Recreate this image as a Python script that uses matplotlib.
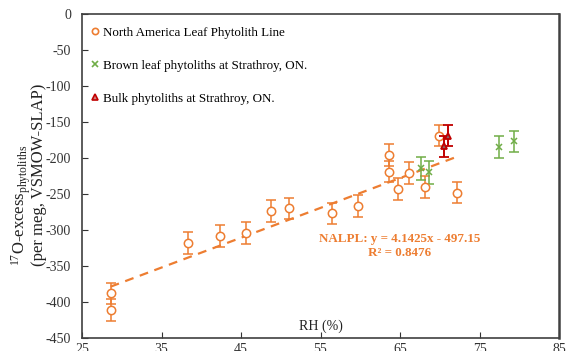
import matplotlib
matplotlib.use("Agg")
import matplotlib.pyplot as plt
from matplotlib.lines import Line2D
import numpy as np

plt.rcParams['font.family'] = ['Liberation Serif', 'DejaVu Serif']
plt.rcParams['axes.unicode_minus'] = False
plt.rcParams['mathtext.fontset'] = 'custom'
plt.rcParams['mathtext.rm'] = 'Liberation Serif'
plt.rcParams['mathtext.it'] = 'Liberation Serif'

# North America Leaf Phytolith Line
na_rh = [28.6, 28.6, 38.3, 42.3, 45.6, 48.8, 51.0, 56.5, 59.7, 63.6, 63.6, 64.8, 66.1, 68.2, 69.9, 72.2]
na_o17 = [-388, -411, -318, -308, -304, -274, -270, -277, -267, -196, -219, -243, -221, -240, -169, -248]
na_err = [15, 15, 15, 15, 15, 15, 15, 15, 15, 15, 15, 15, 15, 15, 15, 15]

# Brown leaf phytoliths at Strathroy, ON.
bl_rh = [67.7, 68.7, 77.5, 79.4]
bl_o17 = [-214, -220, -185, -177]
bl_err = [16, 16, 15, 15]

# Bulk phytoliths at Strathroy, ON.
bk_rh = [70.5, 71.1]
bk_o17 = [-184, -169]
bk_err = [15, 15]

slope, intercept = 4.1425, -497.15
r2 = 0.8476

xticks = [25, 35, 45, 55, 65, 75, 85]
yticks = list(range(-450, 1, 50))

orange = '#ED7D31'
green = '#70AD47'
red = '#C00000'

fig = plt.figure(figsize=(5.68, 3.51), dpi=100)
ax = fig.add_axes([82/568, 1-338/351, (559-82)/568, (338-14)/351])

ax.errorbar(na_rh, na_o17, yerr=na_err, fmt='o', ms=6, mfc='white', mec=orange,
            mew=1.1, ecolor=orange, elinewidth=1.1, capsize=3.5, capthick=1.1, zorder=3)
ax.errorbar(bl_rh, bl_o17, yerr=bl_err, fmt='x', ms=5, mec=green, mew=1.1,
            ecolor=green, elinewidth=1.1, capsize=3.5, capthick=1.1, zorder=3)
ax.errorbar(bk_rh, bk_o17, yerr=bk_err, fmt='^', ms=5, mfc='#8a6a6a', mec=red, mew=1.3,
            ecolor=red, elinewidth=1.4, capsize=3.5, capthick=1.4, zorder=4)

xl = np.array([min(na_rh), max(na_rh)])
ax.plot(xl, slope*xl + intercept, ls=(0, (4, 3)), color=orange, lw=1.6, zorder=2)

ax.set_xlim(25, 85)
ax.set_ylim(-450, 0)
ax.set_xticks(xticks)
ax.set_yticks(yticks)
ax.tick_params(direction='in', length=4, labelsize=10, colors='#333333')
ax.tick_params(axis='y', pad=8)
for s in ax.spines.values():
    s.set_color('#404040')
    s.set_linewidth(1.2)
ax.spines['right'].set_linewidth(1.8)

ax.text(0.5, 0.015, 'RH (%)', transform=ax.transAxes, ha='center', va='bottom',
        fontsize=10, color='#222222')

y0 = 1 - 266/351
fig.text(25/568, y0, r'$^{17}$O-excess$_{\mathrm{phytoliths}}$', rotation=90,
         rotation_mode='anchor', ha='left', va='baseline', fontsize=12, color='#222222')
fig.text(43/568, y0, '(per meg, VSMOW-SLAP)', rotation=90,
         rotation_mode='anchor', ha='left', va='baseline', fontsize=12, color='#222222')

ax.text(65.0, -312, 'NALPL: y = 4.1425x - 497.15', ha='center', va='center',
        fontsize=9.4, fontweight='bold', color=orange)
ax.text(65.0, -332, f'R² = {r2}', ha='center', va='center',
        fontsize=9.4, fontweight='bold', color=orange)

handles = [
    Line2D([], [], ls='none', marker='o', ms=4.5, mfc='white', mec=orange, mew=1.2),
    Line2D([], [], ls='none', marker='x', ms=4, mec=green, mew=1.2),
    Line2D([], [], ls='none', marker='^', ms=4.5, mfc='#d08080', mec=red, mew=1.2),
]
labels = ['North America Leaf Phytolith Line', 'Brown leaf phytoliths at Strathroy, ON.',
          'Bulk phytoliths at Strathroy, ON.']
leg = ax.legend(handles, labels, loc='upper left', frameon=False, fontsize=9.4,
                handlelength=0.6, handletextpad=0.3, labelspacing=1.6,
                borderaxespad=0.3, bbox_to_anchor=(0.0, 0.99))

fig.savefig('out.png', dpi=100)
